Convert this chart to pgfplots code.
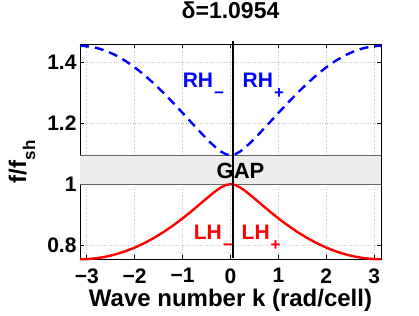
\documentclass[border=0pt]{standalone}
\usepackage{pgfplots}
\pgfplotsset{compat=1.18}
\usepackage{fontspec}
\setmainfont{Liberation Sans}
\newcommand{\lowsub}[1]{\kern1pt\raisebox{-11pt}{\fontsize{17}{17}\selectfont #1}}
\begin{document}
\begin{tikzpicture}
\useasboundingbox (-80pt,-55.7pt) rectangle (339pt,259.3pt);
\begin{axis}[
  at={(0,0)}, anchor=south west,
  scale only axis, width=301pt, height=215pt,
  xmin=-3.1416, xmax=3.1416, ymin=0.7529, ymax=1.46,
  clip=false,
  xtick={-3,-2,-1,0,1,2,3},
  xticklabels={−3,−2,−1,0,1,2,3},
  ytick={0.8,1,1.2,1.4},
  yticklabels={0.8,1,1.2,1.4},
  tick align=inside, major tick length=4pt,
  grid=major,
  major grid style={gray!45, dotted, line width=0.6pt},
  axis line style={black, line width=0.8pt},
  tick style={black, line width=0.6pt},
  ticklabel style={font=\bfseries\fontsize{21}{21}\selectfont},
  xticklabel style={inner sep=0pt, yshift=-9pt},
  title={δ=1.0954},
  title style={font=\bfseries\fontsize{23}{23}\selectfont, at={(0.5,1)}, anchor=base, yshift=20pt},
  xlabel={Wave number k (rad/cell)},
  xlabel style={font=\bfseries\fontsize{24}{24}\selectfont, inner sep=0pt, at={(axis description cs:0.5,0)}, anchor=base, yshift=-47.4pt},
  ylabel={f/f\raisebox{-9pt}{\fontsize{17}{17}\selectfont sh}},
  ylabel style={font=\bfseries\fontsize{24}{24}\selectfont, at={(axis description cs:0,0.5)}, anchor=center, yshift=58pt, xshift=-10pt},
]
% gap band
\addplot[fill=black!7, draw=none] coordinates {(-3.1416,1.0) (3.1416,1.0) (3.1416,1.0954) (-3.1416,1.0954)} -- cycle;
\addplot[black!60, line width=0.8pt] coordinates {(-3.1416,1.0) (3.1416,1.0)};
\addplot[black!60, line width=0.8pt] coordinates {(-3.1416,1.0954) (3.1416,1.0954)};
% upper (RH) band
\addplot[blue, line width=2.4pt, dash pattern=on 9pt off 6pt] coordinates {
(-3.1416,1.45497) (-3.0,1.45383) (-2.8,1.44837) (-2.6,1.43849) (-2.4,1.42435) (-2.2,1.40620) (-2.0,1.38433) (-1.8,1.35913) (-1.6,1.33102) (-1.4,1.30048) (-1.2,1.26805) (-1.0,1.23434) (-0.8,1.20003) (-0.6,1.16607) (-0.5,1.14964) (-0.4,1.13397) (-0.3,1.11957) (-0.2,1.10731) (-0.1,1.09866) (0,1.09545)
(0.1,1.09866) (0.2,1.10731) (0.3,1.11957) (0.4,1.13397) (0.5,1.14964) (0.6,1.16607) (0.8,1.20003) (1.0,1.23434) (1.2,1.26805) (1.4,1.30048) (1.6,1.33102) (1.8,1.35913) (2.0,1.38433) (2.2,1.40620) (2.4,1.42435) (2.6,1.43849) (2.8,1.44837) (3.0,1.45383) (3.1416,1.45497)};
% lower (LH) band
\addplot[red, line width=2.4pt] coordinates {
(-3.1416,0.75290) (-3.0,0.75349) (-2.8,0.75633) (-2.6,0.76153) (-2.4,0.76908) (-2.2,0.77901) (-2.0,0.79131) (-1.8,0.80599) (-1.6,0.82301) (-1.4,0.84234) (-1.2,0.86389) (-1.0,0.88748) (-0.8,0.91285) (-0.6,0.93944) (-0.5,0.95286) (-0.4,0.96603) (-0.3,0.97845) (-0.2,0.98928) (-0.1,0.99708) (0,1.0)
(0.1,0.99708) (0.2,0.98928) (0.3,0.97845) (0.4,0.96603) (0.5,0.95286) (0.6,0.93944) (0.8,0.91285) (1.0,0.88748) (1.2,0.86389) (1.4,0.84234) (1.6,0.82301) (1.8,0.80599) (2.0,0.79131) (2.2,0.77901) (2.4,0.76908) (2.6,0.76153) (2.8,0.75633) (3.0,0.75349) (3.1416,0.75290)};
% vertical line
\addplot[black, line width=1.3pt] coordinates {(0.05,0.757) (0.05,1.472)};
\node[anchor=base west, inner sep=0pt, text=blue, font=\bfseries\fontsize{21}{21}\selectfont] at (axis cs:-1.0,1.319) {RH\lowsub{−}};
\node[anchor=base west, inner sep=0pt, text=blue, font=\bfseries\fontsize{21}{21}\selectfont] at (axis cs:0.25,1.319) {RH\lowsub{+}};
\node[anchor=base west, inner sep=0pt, text=red, font=\bfseries\fontsize{21}{21}\selectfont] at (axis cs:-0.77,0.817) {LH\lowsub{−}};
\node[anchor=base west, inner sep=0pt, text=red, font=\bfseries\fontsize{21}{21}\selectfont] at (axis cs:0.23,0.817) {LH\lowsub{+}};
\node[anchor=base, inner sep=0pt, text=black, font=\bfseries\fontsize{22}{22}\selectfont] at (axis cs:0.21,1.017) {GAP};
\end{axis}
\end{tikzpicture}
\end{document}
